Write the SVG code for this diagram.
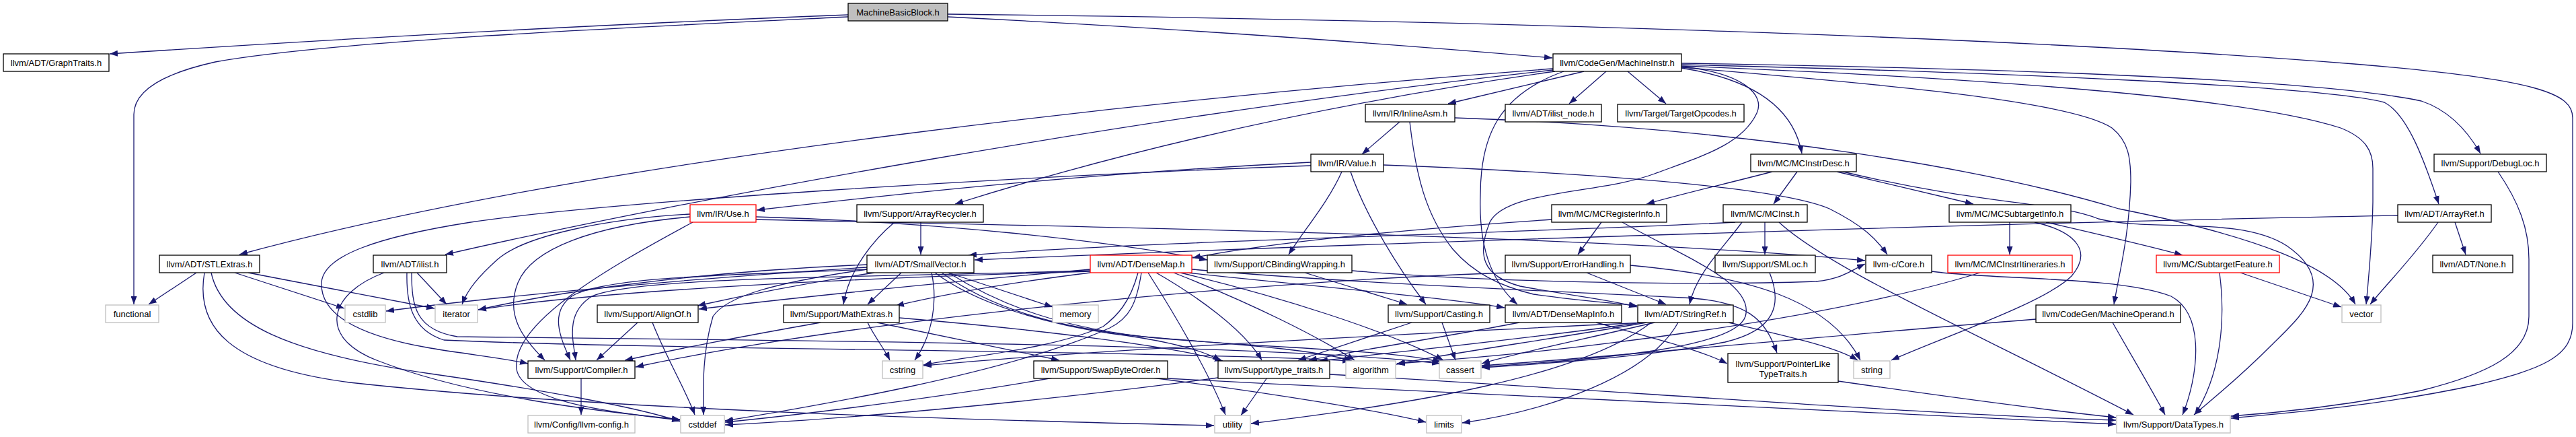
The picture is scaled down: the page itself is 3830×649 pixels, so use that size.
<svg xmlns="http://www.w3.org/2000/svg" width="3830" height="649" viewBox="0 0 3830 649">
<style>
.e path{fill:none;stroke:#191970;stroke-width:1.3;marker-end:url(#a)}
.n rect{fill:#ffffff;stroke:#000000;stroke-width:1.3}
.n.g rect{stroke:#bfbfbf}
.n.r rect{stroke:#ff0000}
.n.m rect{fill:#bfbfbf}
text{font-family:"Liberation Sans",Arial,Helvetica,sans-serif;font-size:13px;text-anchor:middle;fill:#000000}
</style>
<defs>
<marker id="a" viewBox="0 0 12 9" refX="12" refY="4.5" markerWidth="12" markerHeight="9" orient="auto" markerUnits="userSpaceOnUse"><path d="M0,0 L12,4.5 L0,9 z" fill="#191970"/></marker>
</defs>
<rect x="0" y="0" width="3830" height="649" fill="#ffffff"/>
<g id="edges" class="e">
<path d="M1261,22 C900,36 500,58 163,80"/>
<path d="M1261,25 C950,40 500,60 320,92 C230,112 199,140 199,170 L199,452"/>
<path d="M1409,25 C1800,45 2100,68 2308,86"/>
<path d="M1409,21 C2200,30 3000,55 3500,95 C3780,118 3825,140 3825,175 L3825,480 C3825,530 3780,548 3680,572 C3550,600 3420,612 3317,621"/>
<path d="M2309,102 C1800,140 900,230 356,378"/>
<path d="M2309,104 C1700,170 1000,300 662,378"/>
<path d="M2312,106 C2000,150 1700,215 1420,303"/>
<path d="M2355,106 C2290,122 2210,140 2153,154"/>
<path d="M2388,106 L2333,154"/>
<path d="M2420,106 L2477,154"/>
<path d="M2325,106 C2230,140 2201,200 2201,290 C2198,380 2225,425 2256,452"/>
<path d="M2500,99 C2590,108 2625,140 2612,168 C2590,215 2530,232 2460,258 C2380,288 2240,282 2215,330 C2195,380 2205,410 2260,425 C2340,440 2400,446 2434,456"/>
<path d="M2500,101 C2590,115 2665,150 2679,228"/>
<path d="M2500,100 C2800,125 3080,150 3140,190 C3165,210 3168,235 3168,270 C3166,350 3150,410 3143,452"/>
<path d="M2500,96 C3000,108 3450,128 3545,152 C3580,170 3605,240 3626,303"/>
<path d="M2500,94 C3000,102 3450,118 3600,150 C3645,165 3672,200 3688,228"/>
<path d="M2500,98 C3000,118 3350,148 3480,190 C3518,205 3528,225 3528,250 L3528,300 C3527,360 3522,410 3518,452"/>
<path d="M2081,181 L2025,229"/>
<path d="M2096,181 C2105,260 2120,320 2160,370 C2190,405 2230,425 2280,437 C2350,447 2400,450 2434,454"/>
<path d="M2163,175 C2600,190 2950,250 3150,310 C3350,350 3470,395 3502,452"/>
<path d="M1949,241 C1600,258 1300,292 1125,312"/>
<path d="M1949,246 C1500,262 900,300 700,330 C560,352 480,380 478,420 C476,470 540,500 640,517 C700,527 750,532 785,540"/>
<path d="M1995,255 C1975,300 1940,340 1916,378"/>
<path d="M2008,255 C2030,320 2080,400 2120,452"/>
<path d="M2057,245 C2400,258 2650,280 2720,310 C2770,335 2790,355 2806,378"/>
<path d="M1026,318 C900,325 780,350 740,385 C712,410 695,430 687,452"/>
<path d="M1026,322 C880,335 790,370 770,420 C750,470 780,505 810,535"/>
<path d="M1030,330 C900,400 760,480 768,548 C775,595 900,612 1011,624"/>
<path d="M1124,322 C1400,330 1650,358 1795,386"/>
<path d="M1124,326 C1700,338 2400,352 2773,387"/>
<path d="M1369,330 L1369,378"/>
<path d="M1330,330 C1300,355 1262,400 1254,452"/>
<path d="M2672,255 L2637,303"/>
<path d="M2635,255 C2570,272 2500,288 2448,303"/>
<path d="M2731,255 L2934,303"/>
<path d="M2740,255 C2950,305 3060,300 3120,325 C3200,345 3330,320 3400,365 C3480,420 3420,470 3380,510 C3320,570 3280,600 3262,616"/>
<path d="M2381,330 L2346,378"/>
<path d="M2307,326 C2100,340 1900,358 1773,383"/>
<path d="M2412,330 C2500,380 2610,420 2595,470 C2580,515 2400,532 2203,545"/>
<path d="M2580,330 C2300,345 1700,358 1440,379"/>
<path d="M2624,330 L2624,378"/>
<path d="M2590,330 C2565,365 2522,405 2512,452"/>
<path d="M2645,330 C2720,400 2950,500 3172,616"/>
<path d="M2988,330 L2988,378"/>
<path d="M3042,330 C3120,348 3190,364 3245,379"/>
<path d="M3025,330 C3090,345 3110,375 3080,410 C3040,450 2890,500 2812,535"/>
<path d="M3714,255 C3745,300 3760,340 3760,385 L3760,470 C3760,525 3700,555 3600,580 C3500,600 3400,612 3317,618"/>
<path d="M3565,320 C3000,330 2000,362 1449,386"/>
<path d="M3650,330 L3666,378"/>
<path d="M3625,330 C3590,380 3550,420 3524,452"/>
<path d="M292,405 L221,452"/>
<path d="M349,405 L512,458"/>
<path d="M369,405 L646,458"/>
<path d="M314,405 C330,480 430,525 640,555 C800,578 950,605 1011,626"/>
<path d="M304,405 C290,485 340,545 520,568 C900,610 1500,625 1805,632"/>
<path d="M620,405 L664,452"/>
<path d="M571,405 C490,435 470,500 560,535 C700,590 900,612 1011,623"/>
<path d="M605,405 C604,450 612,490 660,505 C1000,520 1700,520 2008,536"/>
<path d="M612,405 C612,455 618,490 680,500 C1100,505 1900,510 2141,540"/>
<path d="M1300,405 C1200,420 1100,440 1037,454"/>
<path d="M1292,400 C1100,408 900,410 850,440 C815,465 835,505 848,535"/>
<path d="M1340,405 L1290,452"/>
<path d="M1390,405 C1450,450 1550,480 1650,495 C1730,505 1790,520 1815,536"/>
<path d="M1400,405 C1470,455 1560,485 1700,500 C1850,512 1960,520 2010,536"/>
<path d="M1410,405 C1490,455 1580,488 1720,502 C1900,518 2080,520 2142,538"/>
<path d="M1289,400 C1150,420 1080,440 1060,470 C1045,520 1045,570 1046,616"/>
<path d="M1289,397 C1000,415 700,445 574,462"/>
<path d="M1385,405 C1395,450 1385,500 1360,535"/>
<path d="M1289,393 C1000,405 800,440 711,460"/>
<path d="M1410,405 L1565,456"/>
<path d="M1765,405 C1950,425 2150,442 2237,457"/>
<path d="M1621,400 C1400,420 1200,440 1039,459"/>
<path d="M1621,402 C1300,412 950,410 880,440 C840,465 852,505 856,535"/>
<path d="M1621,405 C1500,420 1400,438 1332,454"/>
<path d="M1772,400 C2000,420 2300,432 2500,442 C2600,446 2625,475 2642,524"/>
<path d="M1719,405 C1780,440 1850,490 1876,535"/>
<path d="M1745,405 C1860,450 1960,500 2014,535"/>
<path d="M1755,405 C1900,440 2060,490 2146,535"/>
<path d="M1697,405 C1690,450 1680,472 1650,487 C1500,555 1200,605 1078,625"/>
<path d="M1692,405 C1680,450 1660,470 1640,485 C1560,520 1430,530 1373,542"/>
<path d="M1621,403 C1300,412 900,430 711,460"/>
<path d="M1707,405 C1755,480 1800,560 1822,616"/>
<path d="M1940,405 L2092,452"/>
<path d="M2010,402 C2200,418 2500,425 2700,418 C2740,414 2755,400 2773,392"/>
<path d="M2359,405 L2477,452"/>
<path d="M2246,405 C1900,415 1300,470 945,545"/>
<path d="M2424,394 C2600,410 2720,445 2766,535"/>
<path d="M2631,405 C2650,452 2640,490 2565,508 C2450,530 2300,540 2203,546"/>
<path d="M2872,403 C2950,415 3150,410 3228,440 C3280,468 3268,560 3245,616"/>
<path d="M2944,405 C2700,480 2300,525 2077,540"/>
<path d="M3331,405 L3481,456"/>
<path d="M3300,405 C3310,480 3300,560 3263,616"/>
<path d="M3027,474 C2700,500 2400,530 2203,543"/>
<path d="M3141,479 C3170,530 3200,580 3219,616"/>
<path d="M2373,479 C2450,500 2530,520 2568,540"/>
<path d="M2259,479 C2150,500 2020,520 1946,535"/>
<path d="M2099,479 L1930,535"/>
<path d="M2144,479 L2164,535"/>
<path d="M2440,479 C2300,500 2100,520 1962,536"/>
<path d="M2448,479 C2300,505 2150,525 2076,541"/>
<path d="M2460,479 C2350,505 2250,525 2203,540"/>
<path d="M2445,479 C2000,500 1600,522 1373,543"/>
<path d="M2495,479 C2450,560 2300,610 2174,628"/>
<path d="M2570,479 C2660,500 2730,515 2762,535"/>
<path d="M2455,479 C2350,560 2100,600 1860,629"/>
<path d="M1220,479 C1100,500 1000,520 929,535"/>
<path d="M1304,479 L1575,535"/>
<path d="M1290,479 C1300,500 1315,518 1323,535"/>
<path d="M1337,472 C1550,490 1750,515 1818,536"/>
<path d="M948,479 L887,535"/>
<path d="M970,479 C990,530 1020,580 1033,616"/>
<path d="M1566,561 C1400,590 1200,615 1078,627"/>
<path d="M1713,561 C1900,585 2050,610 2120,627"/>
<path d="M1736,562 C2300,592 2900,620 3146,630"/>
<path d="M1811,561 C1600,590 1300,620 1078,631"/>
<path d="M1884,561 L1845,617"/>
<path d="M1977,556 C2400,580 2900,618 3146,624"/>
<path d="M2733,566 C2900,590 3050,610 3146,620"/>
<path d="M864,561 L864,616"/>
</g>
<g id="n_MachineBasicBlock" class="n m"><rect x="1261" y="5" width="148" height="26"/><text x="1335" y="23">MachineBasicBlock.h</text></g>
<g id="n_GraphTraits" class="n"><rect x="5" y="80" width="157" height="26"/><text x="83.5" y="98">llvm/ADT/GraphTraits.h</text></g>
<g id="n_MachineInstr" class="n"><rect x="2309" y="80" width="191" height="26"/><text x="2404.5" y="98">llvm/CodeGen/MachineInstr.h</text></g>
<g id="n_InlineAsm" class="n"><rect x="2030" y="155" width="133" height="26"/><text x="2096.5" y="173">llvm/IR/InlineAsm.h</text></g>
<g id="n_ilist_node" class="n"><rect x="2238" y="155" width="143" height="26"/><text x="2309.5" y="173">llvm/ADT/ilist_node.h</text></g>
<g id="n_TargetOpcodes" class="n"><rect x="2405" y="155" width="188" height="26"/><text x="2499" y="173">llvm/Target/TargetOpcodes.h</text></g>
<g id="n_Value" class="n"><rect x="1949" y="229" width="108" height="26"/><text x="2003" y="247">llvm/IR/Value.h</text></g>
<g id="n_MCInstrDesc" class="n"><rect x="2603" y="229" width="157" height="26"/><text x="2681.5" y="247">llvm/MC/MCInstrDesc.h</text></g>
<g id="n_DebugLoc" class="n"><rect x="3619" y="229" width="167" height="26"/><text x="3702.5" y="247">llvm/Support/DebugLoc.h</text></g>
<g id="n_Use" class="n r"><rect x="1026" y="304" width="98" height="26"/><text x="1075" y="322">llvm/IR/Use.h</text></g>
<g id="n_ArrayRecycler" class="n"><rect x="1274" y="304" width="188" height="26"/><text x="1368" y="322">llvm/Support/ArrayRecycler.h</text></g>
<g id="n_MCRegisterInfo" class="n"><rect x="2307" y="304" width="171" height="26"/><text x="2392.5" y="322">llvm/MC/MCRegisterInfo.h</text></g>
<g id="n_MCInst" class="n"><rect x="2562" y="304" width="125" height="26"/><text x="2624.5" y="322">llvm/MC/MCInst.h</text></g>
<g id="n_MCSubtargetInfo" class="n"><rect x="2898" y="304" width="181" height="26"/><text x="2988.5" y="322">llvm/MC/MCSubtargetInfo.h</text></g>
<g id="n_ArrayRef" class="n"><rect x="3565" y="304" width="139" height="26"/><text x="3634.5" y="322">llvm/ADT/ArrayRef.h</text></g>
<g id="n_STLExtras" class="n"><rect x="237" y="379" width="149" height="26"/><text x="311.5" y="397">llvm/ADT/STLExtras.h</text></g>
<g id="n_ilist" class="n"><rect x="555" y="379" width="109" height="26"/><text x="609.5" y="397">llvm/ADT/ilist.h</text></g>
<g id="n_SmallVector" class="n"><rect x="1289" y="379" width="159" height="26"/><text x="1368.5" y="397">llvm/ADT/SmallVector.h</text></g>
<g id="n_DenseMap" class="n r"><rect x="1621" y="379" width="151" height="26"/><text x="1696.5" y="397">llvm/ADT/DenseMap.h</text></g>
<g id="n_CBindingWrapping" class="n"><rect x="1795" y="379" width="215" height="26"/><text x="1902.5" y="397">llvm/Support/CBindingWrapping.h</text></g>
<g id="n_ErrorHandling" class="n"><rect x="2238" y="379" width="186" height="26"/><text x="2331" y="397">llvm/Support/ErrorHandling.h</text></g>
<g id="n_SMLoc" class="n"><rect x="2550" y="379" width="149" height="26"/><text x="2624.5" y="397">llvm/Support/SMLoc.h</text></g>
<g id="n_Core" class="n"><rect x="2774" y="379" width="98" height="26"/><text x="2823" y="397">llvm-c/Core.h</text></g>
<g id="n_MCInstrItineraries" class="n r"><rect x="2896" y="379" width="185" height="26"/><text x="2988.5" y="397">llvm/MC/MCInstrItineraries.h</text></g>
<g id="n_SubtargetFeature" class="n r"><rect x="3206" y="379" width="183" height="26"/><text x="3297.5" y="397">llvm/MC/SubtargetFeature.h</text></g>
<g id="n_None" class="n"><rect x="3617" y="379" width="119" height="26"/><text x="3676.5" y="397">llvm/ADT/None.h</text></g>
<g id="n_functional" class="n g"><rect x="157" y="453" width="79" height="26"/><text x="196.5" y="471">functional</text></g>
<g id="n_cstdlib" class="n g"><rect x="513" y="453" width="60" height="26"/><text x="543" y="471">cstdlib</text></g>
<g id="n_iterator" class="n g"><rect x="647" y="453" width="63" height="26"/><text x="678.5" y="471">iterator</text></g>
<g id="n_AlignOf" class="n"><rect x="888" y="453" width="150" height="26"/><text x="963" y="471">llvm/Support/AlignOf.h</text></g>
<g id="n_MathExtras" class="n"><rect x="1165" y="453" width="172" height="26"/><text x="1251" y="471">llvm/Support/MathExtras.h</text></g>
<g id="n_memory" class="n g"><rect x="1565" y="453" width="68" height="26"/><text x="1599" y="471">memory</text></g>
<g id="n_Casting" class="n"><rect x="2064" y="453" width="151" height="26"/><text x="2139.5" y="471">llvm/Support/Casting.h</text></g>
<g id="n_DenseMapInfo" class="n"><rect x="2238" y="453" width="173" height="26"/><text x="2324.5" y="471">llvm/ADT/DenseMapInfo.h</text></g>
<g id="n_StringRef" class="n"><rect x="2435" y="453" width="142" height="26"/><text x="2506" y="471">llvm/ADT/StringRef.h</text></g>
<g id="n_MachineOperand" class="n"><rect x="3027" y="453" width="215" height="26"/><text x="3134.5" y="471">llvm/CodeGen/MachineOperand.h</text></g>
<g id="n_vector" class="n g"><rect x="3482" y="453" width="58" height="26"/><text x="3511" y="471">vector</text></g>
<g id="n_Compiler" class="n"><rect x="785" y="536" width="159" height="26"/><text x="864.5" y="554">llvm/Support/Compiler.h</text></g>
<g id="n_cstring" class="n g"><rect x="1312" y="536" width="60" height="26"/><text x="1342" y="554">cstring</text></g>
<g id="n_SwapByteOrder" class="n"><rect x="1537" y="536" width="199" height="26"/><text x="1636.5" y="554">llvm/Support/SwapByteOrder.h</text></g>
<g id="n_type_traits" class="n"><rect x="1811" y="536" width="166" height="26"/><text x="1894" y="554">llvm/Support/type_traits.h</text></g>
<g id="n_algorithm" class="n g"><rect x="2001" y="536" width="74" height="26"/><text x="2038" y="554">algorithm</text></g>
<g id="n_cassert" class="n g"><rect x="2140" y="536" width="62" height="26"/><text x="2171" y="554">cassert</text></g>
<g id="n_PointerLikeTypeTraits" class="n"><rect x="2569" y="525" width="164" height="43"/><text x="2651" y="545">llvm/Support/PointerLike</text><text x="2651" y="560">TypeTraits.h</text></g>
<g id="n_string" class="n g"><rect x="2756" y="536" width="54" height="26"/><text x="2783" y="554">string</text></g>
<g id="n_llvm_config" class="n g"><rect x="785" y="617" width="159" height="26"/><text x="864.5" y="635">llvm/Config/llvm-config.h</text></g>
<g id="n_cstddef" class="n g"><rect x="1012" y="617" width="65" height="26"/><text x="1044.5" y="635">cstddef</text></g>
<g id="n_utility" class="n g"><rect x="1806" y="617" width="53" height="26"/><text x="1832.5" y="635">utility</text></g>
<g id="n_limits" class="n g"><rect x="2121" y="617" width="52" height="26"/><text x="2147" y="635">limits</text></g>
<g id="n_DataTypes" class="n g"><rect x="3147" y="617" width="169" height="26"/><text x="3231.5" y="635">llvm/Support/DataTypes.h</text></g>
</svg>
